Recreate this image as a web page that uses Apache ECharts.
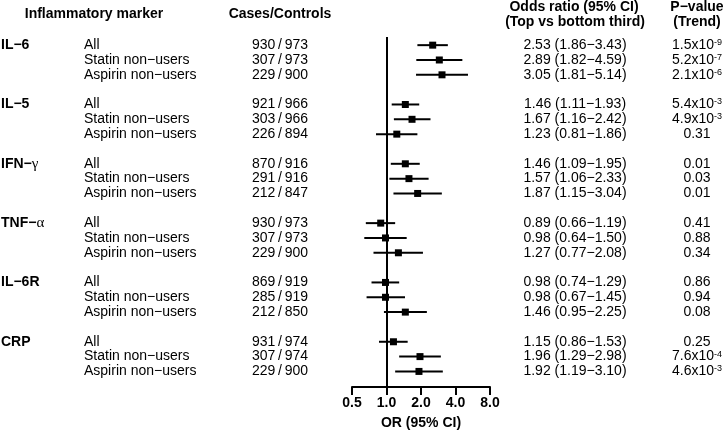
<!DOCTYPE html>
<html>
<head>
<meta charset="utf-8">
<script src="https://cdn.jsdelivr.net/npm/echarts@6/dist/echarts.min.js"></script>
<style>html,body{margin:0;padding:0;background:#fff}#c{width:723px;height:435px}</style>
</head>
<body>
<div id="c"></div>
<script>
// ---- data ----
var markers = ['IL−6', 'IL−5', 'IFN−γ', 'TNF−α', 'IL−6R', 'CRP'];
var subgroups = ['All', 'Statin non−users', 'Aspirin non−users'];
var cases = [[930, 307, 229], [921, 303, 226], [870, 291, 212], [930, 307, 229], [869, 285, 212], [931, 307, 229]];
var controls = [[973, 973, 900], [966, 966, 894], [916, 916, 847], [973, 973, 900], [919, 919, 850], [974, 974, 900]];
var oddsRatio = [[2.53, 2.89, 3.05], [1.46, 1.67, 1.23], [1.46, 1.57, 1.87], [0.89, 0.98, 1.27], [0.98, 0.98, 1.46], [1.15, 1.96, 1.92]];
var ciLow = [[1.86, 1.82, 1.81], [1.11, 1.16, 0.81], [1.09, 1.06, 1.15], [0.66, 0.64, 0.77], [0.74, 0.67, 0.95], [0.86, 1.29, 1.19]];
var ciHigh = [[3.43, 4.59, 5.14], [1.93, 2.42, 1.86], [1.95, 2.33, 3.04], [1.19, 1.50, 2.08], [1.29, 1.45, 2.25], [1.53, 2.98, 3.10]];
// p-values: [mantissa-or-value, exponent or null]
var pValues = [
  [['1.5', '-9'], ['5.2', '-7'], ['2.1', '-6']],
  [['5.4', '-3'], ['4.9', '-3'], ['0.31', null]],
  [['0.01', null], ['0.03', null], ['0.01', null]],
  [['0.41', null], ['0.88', null], ['0.34', null]],
  [['0.86', null], ['0.94', null], ['0.08', null]],
  [['0.25', null], ['7.6', '-4'], ['4.6', '-3']]
];
var xTicks = [0.5, 1, 2, 4, 8];

// ---- build ----
var ROWS_PER_GROUP = 4;
var rows = [];
for (var g = 0; g < markers.length; g++) {
  for (var r = 0; r < subgroups.length; r++) {
    rows.push([g * ROWS_PER_GROUP + r, ciLow[g][r], ciHigh[g][r], oddsRatio[g][r], g, r]);
  }
}

var chart = echarts.init(document.getElementById('c'));
var FONT = '"Liberation Sans", Arial, sans-serif';

chart.setOption({
  animation: false,
  backgroundColor: '#fff',
  grid: { left: 352, right: 233, top: 37, bottom: 44 },
  xAxis: {
    type: 'log', logBase: 2, min: xTicks[0], max: xTicks[xTicks.length - 1],
    position: 'bottom',
    axisLine: { show: true, onZero: false, lineStyle: { color: '#000', width: 2 } },
    axisTick: { show: true, length: 8, lineStyle: { color: '#000', width: 2 } },
    axisLabel: {
      color: '#000', fontWeight: 'bold', fontSize: 14, fontFamily: FONT, margin: 9,
      formatter: function (v) { return (+v).toFixed(1); }
    },
    splitLine: { show: false },
    minorTick: { show: false },
    name: 'OR (95% CI)', nameLocation: 'middle', nameGap: 29,
    nameTextStyle: { color: '#000', fontWeight: 'bold', fontSize: 14, fontFamily: FONT }
  },
  yAxis: {
    type: 'value', inverse: true, min: -0.55, max: 23.05,
    show: false
  },
  series: [
    {
      type: 'scatter', data: [], silent: true,
      markLine: {
        silent: true, symbol: ['none', 'none'],
        label: { show: false },
        lineStyle: { color: '#000', width: 2, type: 'solid' },
        data: [{ xAxis: 1 }]
      }
    },
    {
      type: 'custom',
      data: rows,
      encode: { x: [1, 2, 3], y: 0 },
      renderItem: function (params, api) {
        var k = api.value(0);
        var a = api.coord([api.value(1), k]);
        var b = api.coord([api.value(2), k]);
        var c = api.coord([api.value(3), k]);
        var s = 7;
        return {
          type: 'group',
          children: [
            { type: 'line', shape: { x1: a[0], y1: a[1], x2: b[0], y2: b[1] }, style: { stroke: '#000', lineWidth: 2 } },
            { type: 'rect', shape: { x: c[0] - s / 2, y: c[1] - s / 2, width: s, height: s }, style: { fill: '#000' } }
          ]
        };
      }
    }
  ]
});

// ---- table text ----
var graphics = [];
function txt(x, y, text, align, extra) {
  var st = { x: x, y: y, text: text, align: align, verticalAlign: 'middle', fill: '#000', font: '14px ' + FONT };
  if (extra) for (var key in extra) st[key] = extra[key];
  graphics.push({ type: 'text', silent: true, style: st });
}
var headerFont = 'bold 14px ' + FONT;
txt(94, 14, 'Inflammatory marker', 'center', { font: headerFont });
txt(280, 14, 'Cases/Controls', 'center', { font: headerFont });
txt(574, 7, 'Odds ratio (95% CI)', 'center', { font: headerFont });
txt(575, 22, '(Top vs bottom third)', 'center', { font: headerFont });
txt(697, 7, 'P−value', 'center', { font: headerFont });
txt(697, 22, '(Trend)', 'center', { font: headerFont });

rows.forEach(function (row) {
  var k = row[0], g = row[4], r = row[5];
  var y = chart.convertToPixel({ gridIndex: 0 }, [1, k])[1];
  if (r === 0) {
    var name = markers[g];
    var greek = name.match(/[α-ωΑ-Ω]$/);
    if (greek) {
      graphics.push({ type: 'text', silent: true, style: {
        x: 1, y: y, align: 'left', verticalAlign: 'middle',
        text: '{b|' + name.slice(0, -1) + '}{g|' + greek[0] + '}',
        rich: {
          b: { fontSize: 14, fontWeight: 'bold', fontFamily: FONT, fill: '#000' },
          g: { fontSize: 15, fontWeight: 'normal', fontFamily: '"Liberation Serif", serif', fill: '#000' }
        }
      } });
    } else {
      txt(1, y, name, 'left', { font: headerFont });
    }
  }
  txt(84, y, subgroups[r], 'left');
  txt(280, y, cases[g][r] + '\u2009/\u2009' + controls[g][r], 'center');
  txt(575, y, oddsRatio[g][r].toFixed(2) + ' (' + ciLow[g][r].toFixed(2) + '−' + ciHigh[g][r].toFixed(2) + ')', 'center');
  var p = pValues[g][r];
  if (p[1] === null) {
    txt(697, y, p[0], 'center');
  } else {
    graphics.push({ type: 'text', silent: true, style: {
      x: 697, y: y, align: 'center', verticalAlign: 'middle',
      text: '{n|' + p[0] + 'x10}{s|' + p[1] + '}',
      rich: {
        n: { fontSize: 14, fontFamily: FONT, fill: '#000' },
        s: { fontSize: 9, fontFamily: FONT, fill: '#000', verticalAlign: 'top' }
      }
    } });
  }
});
chart.setOption({ graphic: graphics });
</script>
</body>
</html>
